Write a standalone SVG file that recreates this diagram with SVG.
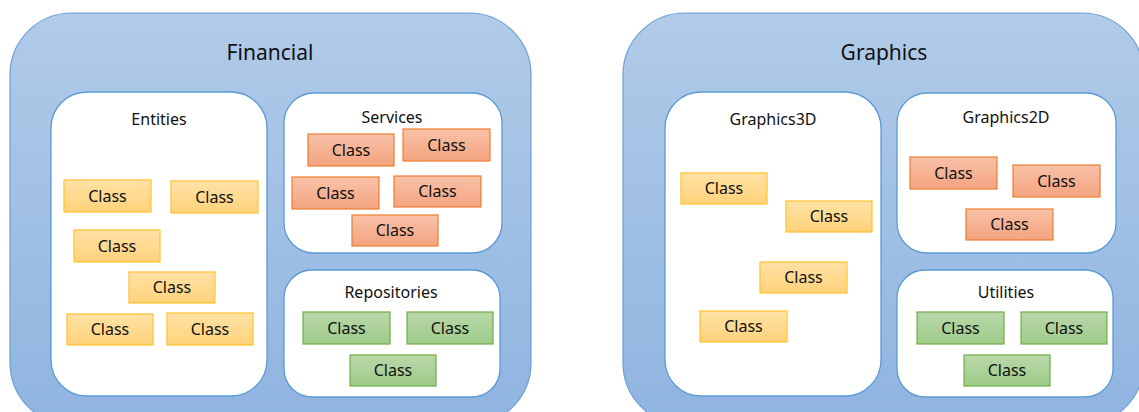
<svg xmlns="http://www.w3.org/2000/svg" width="1139" height="412" viewBox="0 0 1139 412">
<defs>
<linearGradient id="gOuter" x1="0" y1="0" x2="0" y2="1">
<stop offset="0" stop-color="#b1cbe8"/>
<stop offset="1" stop-color="#8fb4e0"/>
</linearGradient>
<linearGradient id="gY" x1="0" y1="0" x2="0" y2="1">
<stop offset="0" stop-color="#ffe2a6"/>
<stop offset="1" stop-color="#fed27a"/>
</linearGradient>
<linearGradient id="gO" x1="0" y1="0" x2="0" y2="1">
<stop offset="0" stop-color="#f8c2a8"/>
<stop offset="1" stop-color="#f4a380"/>
</linearGradient>
<linearGradient id="gG" x1="0" y1="0" x2="0" y2="1">
<stop offset="0" stop-color="#b9d8aa"/>
<stop offset="1" stop-color="#9ecb88"/>
</linearGradient>
</defs>
<style>
text{font-family:"Noto Sans","Liberation Sans",sans-serif;fill:#111;text-anchor:middle}
.outer{fill:url(#gOuter);stroke:#6d9fd6;stroke-width:1.2}
.inner{fill:#fff;stroke:#5b9bd5;stroke-width:1.3}
.y{fill:url(#gY);stroke:#ffc12e;stroke-width:1.2}
.o{fill:url(#gO);stroke:#ed7d31;stroke-width:1.2}
.g{fill:url(#gG);stroke:#70ad47;stroke-width:1.2}
.t1{font-size:21px}
.t2{font-size:16px}
.c{font-size:16px}
</style>
<g id="financial">
<rect class="outer" x="10" y="13" width="521" height="412" rx="62"/>
<text class="t1" x="270" y="60">Financial</text>
</g>
<g id="graphics">
<rect class="outer" x="623" y="13" width="521" height="412" rx="62"/>
<text class="t1" x="884" y="60">Graphics</text>
</g>
<g id="entities">
<rect class="inner" x="51" y="92" width="216" height="304" rx="36"/>
<text class="t2" x="159" y="125">Entities</text>
</g>
<g id="services">
<rect class="inner" x="284" y="93" width="218" height="160" rx="30"/>
<text class="t2" x="392" y="123">Services</text>
</g>
<g id="repositories">
<rect class="inner" x="284" y="270" width="216" height="127" rx="28"/>
<text class="t2" x="391" y="298">Repositories</text>
</g>
<g id="graphics3d">
<rect class="inner" x="665" y="92" width="216" height="304" rx="36"/>
<text class="t2" x="773" y="125">Graphics3D</text>
</g>
<g id="graphics2d">
<rect class="inner" x="897" y="93" width="219" height="160" rx="30"/>
<text class="t2" x="1006" y="123">Graphics2D</text>
</g>
<g id="utilities">
<rect class="inner" x="897" y="270" width="216" height="127" rx="28"/>
<text class="t2" x="1006" y="298">Utilities</text>
</g>
<g id="ent-c1"><rect class="y" x="64" y="180" width="87" height="32"/><text class="c" x="107.5" y="202">Class</text></g>
<g id="ent-c2"><rect class="y" x="171" y="181" width="87" height="32"/><text class="c" x="214.5" y="203">Class</text></g>
<g id="ent-c3"><rect class="y" x="74" y="230" width="86" height="32"/><text class="c" x="117" y="252">Class</text></g>
<g id="ent-c4"><rect class="y" x="129" y="272" width="86" height="31"/><text class="c" x="172" y="293">Class</text></g>
<g id="ent-c5"><rect class="y" x="67" y="314" width="86" height="31"/><text class="c" x="110" y="335">Class</text></g>
<g id="ent-c6"><rect class="y" x="167" y="313" width="86" height="32"/><text class="c" x="210" y="335">Class</text></g>
<g id="srv-c1"><rect class="o" x="308" y="134" width="86" height="32"/><text class="c" x="351" y="156">Class</text></g>
<g id="srv-c2"><rect class="o" x="403" y="129" width="87" height="32"/><text class="c" x="446.5" y="151">Class</text></g>
<g id="srv-c3"><rect class="o" x="292" y="177" width="87" height="32"/><text class="c" x="335.5" y="199">Class</text></g>
<g id="srv-c4"><rect class="o" x="394" y="176" width="87" height="31"/><text class="c" x="437.5" y="197">Class</text></g>
<g id="srv-c5"><rect class="o" x="352" y="215" width="86" height="31"/><text class="c" x="395" y="236">Class</text></g>
<g id="rep-c1"><rect class="g" x="303" y="312" width="87" height="32"/><text class="c" x="346.5" y="334">Class</text></g>
<g id="rep-c2"><rect class="g" x="407" y="312" width="86" height="32"/><text class="c" x="450" y="334">Class</text></g>
<g id="rep-c3"><rect class="g" x="350" y="355" width="86" height="31"/><text class="c" x="393" y="376">Class</text></g>
<g id="g3d-c1"><rect class="y" x="681" y="173" width="86" height="31"/><text class="c" x="724" y="194">Class</text></g>
<g id="g3d-c2"><rect class="y" x="786" y="201" width="86" height="31"/><text class="c" x="829" y="222">Class</text></g>
<g id="g3d-c3"><rect class="y" x="760" y="262" width="87" height="31"/><text class="c" x="803.5" y="283">Class</text></g>
<g id="g3d-c4"><rect class="y" x="700" y="311" width="87" height="31"/><text class="c" x="743.5" y="332">Class</text></g>
<g id="g2d-c1"><rect class="o" x="910" y="157" width="87" height="32"/><text class="c" x="953.5" y="179">Class</text></g>
<g id="g2d-c2"><rect class="o" x="1013" y="165" width="87" height="32"/><text class="c" x="1056.5" y="187">Class</text></g>
<g id="g2d-c3"><rect class="o" x="966" y="209" width="87" height="31"/><text class="c" x="1009.5" y="230">Class</text></g>
<g id="utl-c1"><rect class="g" x="917" y="312" width="87" height="32"/><text class="c" x="960.5" y="334">Class</text></g>
<g id="utl-c2"><rect class="g" x="1021" y="312" width="86" height="32"/><text class="c" x="1064" y="334">Class</text></g>
<g id="utl-c3"><rect class="g" x="964" y="355" width="86" height="31"/><text class="c" x="1007" y="376">Class</text></g>
<g id="connectors"/>
</svg>
